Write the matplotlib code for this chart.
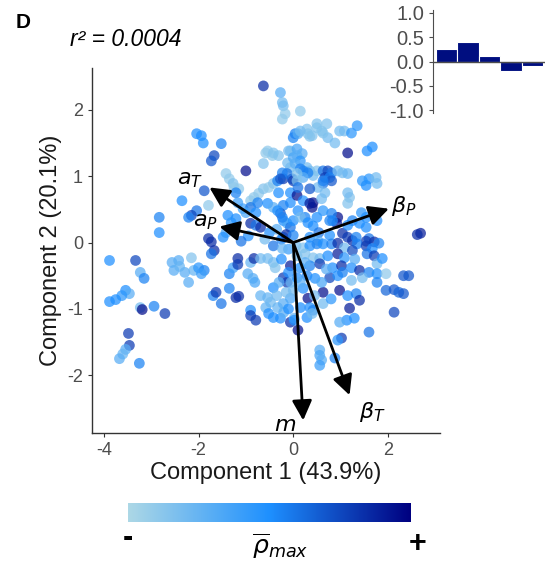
import matplotlib
matplotlib.use("Agg")
import matplotlib.pyplot as plt
import numpy as np
from matplotlib.colors import LinearSegmentedColormap

plt.rcParams['font.family'] = ['Liberation Sans', 'DejaVu Sans']
plt.rcParams['mathtext.fontset'] = 'dejavusans'
plt.rcParams['axes.unicode_minus'] = False

# PCA scores (component 1, component 2, relative rho_max 0..1)
upper_left = [
    (-0.63, 2.36, 0.85), (-2.04, 1.64, 0.5), (-1.94, 1.61, 0.5), (-1.90, 1.50, 0.5), (-1.52, 1.49, 0.55),
    (-1.67, 1.31, 0.75), (-1.73, 1.23, 0.7), (-1.0, 1.08, 0.95), (-0.58, 1.35, 0.1), (-0.44, 1.31, 0.1),
    (-0.31, 1.31, 0.15), (-0.63, 1.19, 0.15), (-0.54, 1.38, 0.1), (-0.42, 1.35, 0.15), (-0.06, 1.38, 0.2),
    (-0.10, 1.38, 0.2), (-0.12, 1.20, 0.2), (-0.06, 1.13, 0.2), (-1.42, 1.04, 0.1), (-1.35, 0.96, 0.1),
    (-1.27, 0.89, 0.15), (-1.25, 0.83, 0.1), (-1.15, 0.81, 0.1), (-1.88, 0.78, 0.7), (-2.35, 0.63, 0.5),
    (-2.04, 0.48, 0.6), (-2.15, 0.41, 0.75), (-2.21, 0.38, 0.55), (-1.79, 0.56, 0.1), (-2.83, 0.38, 0.55),
    (-2.83, 0.15, 0.5), (-1.21, 0.75, 0.55), (-1.38, 0.41, 0.5), (-1.31, 0.30, 0.45), (-1.21, 0.36, 0.5),
    (-1.17, 0.60, 0.4), (-1.06, 0.51, 0.4), (-0.90, 0.63, 0.1), (-0.83, 0.68, 0.1), (-0.73, 0.74, 0.1),
    (-0.63, 0.81, 0.15), (-0.52, 0.83, 0.1), (-0.42, 0.89, 0.15), (-0.90, 0.53, 0.6), (-0.79, 0.45, 0.5),
    (-0.75, 0.60, 0.55), (-0.90, 0.29, 0.85), (-0.79, 0.26, 0.6), (-0.69, 0.23, 0.85), (-1.42, 0.15, 0.35),
    (-1.48, 0.08, 0.5), (-1.79, 0.06, 0.85), (-1.73, 0.01, 0.85), (-0.33, 0.93, 0.55), (-0.21, 0.96, 0.8),
    (-0.13, 1.04, 0.6), (-0.23, 1.05, 0.55), (-0.27, 0.96, 0.7), (-0.02, 0.96, 0.65), (-0.06, 0.75, 0.5),
    (-0.31, 0.75, 0.5), (-0.06, 0.60, 0.5), (-0.21, 0.56, 0.55), (-0.54, 0.59, 0.5), (-0.42, 0.53, 0.3),
    (-0.27, 0.44, 0.7), (-0.21, 0.33, 0.5), (-0.13, 0.29, 0.35), (-0.06, 0.23, 0.6), (-0.21, 0.08, 0.5),
    (-0.5, 0.15, 0.5), (-0.35, 0.2, 0.3), (-0.6, 0.05, 0.2), (-0.25, 0.05, 0.55), (-0.15, 0.12, 0.85),
    (-1.0, 0.45, 0.35), (-0.95, 0.1, 0.5), (-1.1, 0.02, 0.6), (-0.33, 0.48, 0.5), (-0.23, 0.38, 0.55),
    (-0.27, 2.26, 0.3), (-0.23, 2.11, 0.2), (-0.21, 2.06, 0.2), (-0.17, 1.94, 0.1), (-0.23, 1.86, 0.1),
]
upper_right = [
    (0.15, 1.98, 0.1), (0.04, 1.64, 0.55), (0.0, 1.58, 0.55), (0.10, 1.64, 0.3), (0.08, 1.41, 0.35),
    (0.29, 1.71, 0.15), (0.40, 1.61, 0.15), (0.50, 1.79, 0.15), (0.60, 1.68, 0.15), (0.71, 1.79, 0.15),
    (0.73, 1.58, 0.2), (0.88, 1.50, 0.2), (0.35, 1.60, 0.15), (0.50, 1.73, 0.15), (0.63, 1.65, 0.15),
    (0.31, 1.64, 0.15), (0.15, 1.68, 0.2), (0.98, 1.68, 0.2), (1.08, 1.68, 0.2), (1.23, 1.65, 0.45),
    (1.35, 1.76, 0.45), (1.15, 1.35, 0.95), (1.56, 1.38, 0.5), (1.67, 1.44, 0.5), (0.19, 1.34, 0.3),
    (0.0, 1.28, 0.35), (0.08, 1.31, 0.3), (0.15, 1.23, 0.45), (0.04, 1.19, 0.3), (0.29, 1.13, 0.2),
    (0.35, 1.08, 0.2), (0.42, 1.01, 0.2), (0.50, 1.08, 0.15), (0.15, 1.11, 0.55), (0.21, 1.08, 0.55),
    (0.31, 1.05, 0.55), (0.21, 0.98, 0.3), (0.0, 0.93, 0.8), (0.08, 0.93, 0.15), (0.08, 1.04, 0.15),
    (0.63, 1.08, 0.6), (0.73, 1.08, 0.75), (0.81, 1.05, 0.6), (0.67, 0.98, 0.8), (0.77, 0.98, 0.55),
    (0.81, 0.93, 0.7), (0.63, 0.89, 0.6), (0.94, 1.08, 0.2), (1.04, 1.05, 0.2), (1.15, 1.04, 0.25),
    (1.46, 0.93, 0.45), (1.60, 0.96, 0.45), (1.75, 0.98, 0.2), (1.77, 0.89, 0.2), (1.54, 0.86, 0.5),
    (0.08, 0.71, 0.95), (0.42, 0.60, 0.95), (0.40, 0.53, 0.95), (0.60, 0.66, 0.2), (0.67, 0.75, 0.2),
    (0.52, 0.83, 0.2), (1.19, 0.68, 0.15), (1.15, 0.59, 0.15), (1.15, 0.75, 0.2), (0.94, 0.38, 0.95),
    (0.92, 0.29, 0.9), (0.81, 0.44, 0.55), (0.83, 0.33, 0.5), (1.25, 0.33, 0.55), (1.40, 0.29, 0.5),
    (1.54, 0.23, 0.5), (1.04, 0.14, 0.85), (1.15, 0.08, 0.8), (1.25, 0.03, 0.85), (1.60, 0.06, 0.6),
    (1.71, 0.01, 0.85), (2.69, 0.14, 0.9), (2.62, 0.12, 0.85), (0.1, 0.48, 0.5), (0.25, 0.38, 0.55),
    (0.42, 0.25, 0.5), (0.54, 0.15, 0.6), (0.0, 0.33, 0.5), (0.15, 0.38, 0.2), (0.31, 0.30, 0.5),
    (0.50, 0.38, 0.5), (0.63, 0.48, 0.45), (0.77, 0.33, 0.55), (1.15, 0.26, 0.5), (1.44, 0.45, 0.45),
    (1.54, 0.38, 0.5), (1.77, 0.33, 0.5), (0.77, 0.11, 0.5), (1.33, 0.08, 0.55), (1.54, 0.02, 0.8),
    (0.35, 0.08, 0.5), (0.52, 0.03, 0.3), (0.21, 0.63, 0.5), (0.35, 0.59, 0.9), (0.10, 0.83, 0.6),
    (0.35, 0.81, 0.7), (0.63, 0.93, 0.55), (0.0, 0.11, 0.55),
]
lower_left = [
    (-0.42, -0.05, 0.6), (-0.1, -0.1, 0.4), (-3.88, -0.27, 0.5), (-3.33, -0.27, 0.75), (-3.23, -0.45, 0.3),
    (-3.15, -0.54, 0.55), (-3.54, -0.72, 0.5), (-3.46, -0.77, 0.3), (-3.62, -0.80, 0.45), (-3.75, -0.86, 0.5),
    (-3.88, -0.89, 0.5), (-3.23, -0.98, 0.2), (-3.19, -1.01, 0.95), (-2.94, -0.96, 0.55), (-2.71, -1.07, 0.8),
    (-3.48, -1.37, 0.8), (-3.46, -1.55, 0.8), (-3.54, -1.61, 0.3), (-3.60, -1.68, 0.25), (-3.67, -1.75, 0.3),
    (-3.25, -1.82, 0.55), (-2.56, -0.30, 0.3), (-2.42, -0.27, 0.3), (-2.15, -0.23, 0.15), (-2.52, -0.42, 0.3),
    (-2.29, -0.45, 0.3), (-2.21, -0.60, 0.3), (-2.10, -0.42, 0.25), (-2.00, -0.38, 0.45), (-1.88, -0.42, 0.55),
    (-1.94, -0.47, 0.4), (-2.40, -0.36, 0.25), (-1.35, -0.47, 0.55), (-1.27, -0.38, 0.4), (-1.17, -0.24, 0.85),
    (-1.17, -0.33, 0.8), (-0.96, -0.47, 0.3), (-0.85, -0.54, 0.3), (-0.81, -0.60, 0.35), (-0.90, -0.30, 0.25),
    (-0.83, -0.24, 0.85), (-0.69, -0.24, 0.2), (-0.54, -0.24, 0.2), (-0.42, -0.30, 0.2), (-0.38, -0.38, 0.15),
    (-0.23, -0.09, 0.25), (-0.06, -0.35, 0.9), (-0.21, -0.53, 0.8), (-0.13, -0.60, 0.8), (-0.42, -0.68, 0.5),
    (-0.69, -0.80, 0.25), (-0.54, -0.83, 0.25), (-0.48, -0.90, 0.2), (-0.58, -0.98, 0.25), (-0.33, -0.98, 0.25),
    (-0.21, -0.92, 0.3), (-0.06, -0.84, 0.35), (-0.52, -1.07, 0.5), (-0.42, -1.13, 0.5), (-0.27, -1.14, 0.5),
    (-0.06, -1.20, 0.85), (-0.90, -1.02, 0.5), (-0.90, -1.10, 0.8), (-0.79, -1.17, 0.8), (-1.69, -0.80, 0.55),
    (-1.63, -0.75, 0.8), (-1.52, -0.92, 0.6), (-1.35, -0.69, 0.55), (-1.21, -0.83, 0.85), (-1.15, -0.81, 0.85),
    (-1.67, -0.12, 0.85), (-1.73, -0.17, 0.6), (-0.3, -0.6, 0.3), (-0.15, -0.75, 0.2), (-0.35, -0.8, 0.2),
    (-0.1, -0.45, 0.5), (-0.25, -0.25, 0.5), (-0.05, -0.6, 0.25), (-0.2, -1.05, 0.3), (-0.1, -1.0, 0.5),
]
lower_right = [
    (0.06, -0.05, 0.2), (0.21, -0.08, 0.15), (0.35, -0.05, 0.5), (0.50, -0.02, 0.55), (0.63, -0.02, 0.5),
    (0.81, -0.02, 0.55), (0.94, -0.01, 0.85), (1.08, -0.08, 0.2), (1.35, -0.02, 0.55), (1.54, -0.05, 0.8),
    (1.67, -0.09, 0.5), (1.81, -0.01, 0.55), (0.08, -0.20, 0.2), (0.25, -0.17, 0.15), (0.42, -0.23, 0.15),
    (0.56, -0.24, 0.2), (0.73, -0.20, 0.5), (0.94, -0.17, 0.9), (1.08, -0.23, 0.45), (1.25, -0.12, 0.75),
    (1.56, -0.17, 0.6), (1.71, -0.20, 0.8), (1.77, -0.32, 0.2), (1.88, -0.24, 0.5), (0.15, -0.38, 0.5),
    (0.35, -0.35, 0.55), (0.56, -0.32, 0.8), (0.83, -0.38, 0.5), (1.02, -0.35, 0.85), (1.23, -0.38, 0.5),
    (1.40, -0.42, 0.85), (1.60, -0.45, 0.55), (1.77, -0.47, 0.5), (1.96, -0.47, 0.1), (0.08, -0.53, 0.5),
    (0.29, -0.50, 0.55), (0.46, -0.54, 0.5), (0.77, -0.53, 0.75), (0.94, -0.50, 0.5), (1.04, -0.45, 0.55),
    (1.23, -0.57, 0.2), (1.46, -0.53, 0.2), (1.77, -0.60, 0.55), (0.0, -0.72, 0.2), (0.21, -0.69, 0.5),
    (0.31, -0.84, 0.95), (0.63, -0.75, 0.95), (0.98, -0.72, 0.95), (1.15, -0.80, 0.5), (1.33, -0.77, 0.55),
    (1.40, -0.87, 0.85), (0.15, -0.98, 0.5), (0.35, -0.98, 0.5), (0.42, -1.02, 0.55), (0.63, -0.92, 0.2),
    (1.19, -0.99, 0.9), (1.29, -1.14, 0.5), (1.13, -1.17, 0.5), (0.98, -1.20, 0.3), (0.02, -1.14, 0.25),
    (0.10, -1.32, 0.95), (0.29, -1.13, 0.5), (0.40, -1.07, 0.2), (1.02, -1.44, 0.8), (0.94, -1.47, 0.45),
    (0.88, -1.74, 0.55), (1.60, -1.35, 0.6), (2.13, -1.05, 0.75), (0.56, -1.62, 0.3), (0.56, -1.70, 0.35),
    (0.60, -1.77, 0.3), (0.56, -1.85, 0.4), (1.96, -0.72, 0.65), (2.13, -0.71, 0.7), (2.23, -0.75, 0.65),
    (2.33, -0.77, 0.7), (2.33, -0.50, 0.7), (2.44, -0.50, 0.7), (0.15, -0.6, 0.3), (0.6, -0.6, 0.35),
    (0.45, -0.8, 0.2), (0.8, -0.85, 0.45), (0.25, -0.3, 0.3), (0.7, -0.4, 0.3), (1.3, -0.25, 0.3),
    (0.02, -1.17, 0.5),
]

# loading vectors
load_names = [r'$a_T$', r'$a_P$', r'$\beta_P$', r'$\beta_T$', r'$m$']
load_x = [-1.77, -1.56, 2.02, 1.19, 0.21]
load_y = [0.83, 0.24, 0.51, -2.30, -2.68]
label_x = [-2.18, -1.85, 2.33, 1.68, -0.17]
label_y = [0.95, 0.31, 0.55, -2.55, -2.75]

# inset bar chart
bar_vals = [0.26, 0.40, 0.12, -0.19, -0.10]

cmap = LinearSegmentedColormap.from_list('rho', ['#ADD8E6', '#1E90FF', '#000080'])

pts = np.array(upper_left + upper_right + lower_left + lower_right)

fig = plt.figure(figsize=(5.45, 5.64), dpi=100)
ax = fig.add_axes([92/545, 1 - 433/564, 348/545, 365/564])

ax.scatter(pts[:, 0], pts[:, 1], c=pts[:, 2], cmap=cmap, vmin=0, vmax=1,
           s=60, alpha=0.72, linewidths=0, zorder=2)

for lx, ly in zip(load_x, load_y):
    ax.annotate('', xy=(lx, ly), xytext=(0, 0),
                arrowprops=dict(arrowstyle='-|>,head_length=0.8,head_width=0.4',
                                color='black', lw=2, shrinkA=0, shrinkB=0,
                                mutation_scale=15), zorder=4)
for name, tx, ty in zip(load_names, label_x, label_y):
    ax.text(tx, ty, name, fontsize=16, ha='center', va='center', zorder=5)

ax.set_xlim(-4.25, 3.1)
ax.set_ylim(-2.87, 2.63)
ax.set_xticks([-4, -2, 0, 2])
ax.set_yticks([-2, -1, 0, 1, 2])
for side in ['top', 'right']:
    ax.spines[side].set_visible(False)
for side in ['left', 'bottom']:
    ax.spines[side].set_color('#333333')
    ax.spines[side].set_linewidth(1.0)
ax.tick_params(colors='#333333', labelcolor='#4D4D4D', labelsize=13, length=3, width=0.8)
ax.set_xlabel('Component 1 (43.9%)', fontsize=17, color='#1a1a1a', labelpad=2)
ax.set_ylabel('Component 2 (20.1%)', fontsize=17, color='#1a1a1a', labelpad=4)

fig.text(16/545, 1 - 22/564, 'D', fontsize=15, fontweight='bold', va='center', ha='left')
fig.text(70/545, 1 - 40/564, 'r² = 0.0004', fontsize=16.5, style='italic', va='center', ha='left')

# inset
ins = fig.add_axes([433/545, 1 - 113/564, 112/545, 103/564])
ins.bar(range(len(bar_vals)), bar_vals, width=1.0, color='#000E80', edgecolor='white', linewidth=0.8)
ins.axhline(0, color='#4D4D4D', lw=1)
ins.set_xlim(-0.63, 4.58)
ins.set_ylim(-1.06, 1.06)
ins.set_yticks([-1.0, -0.5, 0.0, 0.5, 1.0])
ins.set_yticklabels(['-1.0', '-0.5', '0.0', '0.5', '1.0'])
ins.set_xticks([])
for side in ['top', 'right', 'bottom']:
    ins.spines[side].set_visible(False)
ins.spines['left'].set_color('#4D4D4D')
ins.tick_params(colors='#4D4D4D', labelcolor='#4D4D4D', labelsize=14.5, length=3, width=0.8)
ins.patch.set_alpha(0)

# colour bar
cax = fig.add_axes([128/545, 1 - 522/564, 283/545, 19/564])
cax.imshow(np.linspace(0, 1, 256)[None, :], aspect='auto', cmap=cmap)
cax.set_axis_off()
fig.text(128/545, 1 - 538/564, '-', fontsize=22, fontweight='bold', ha='center', va='center')
fig.text(418/545, 1 - 544/564, '+', fontsize=22, fontweight='bold', ha='center', va='center')
fig.text(280/545, 1 - 546/564, r'$\overline{\rho}_{max}$', fontsize=18, ha='center', va='center')

fig.savefig('out.png', dpi=100)
